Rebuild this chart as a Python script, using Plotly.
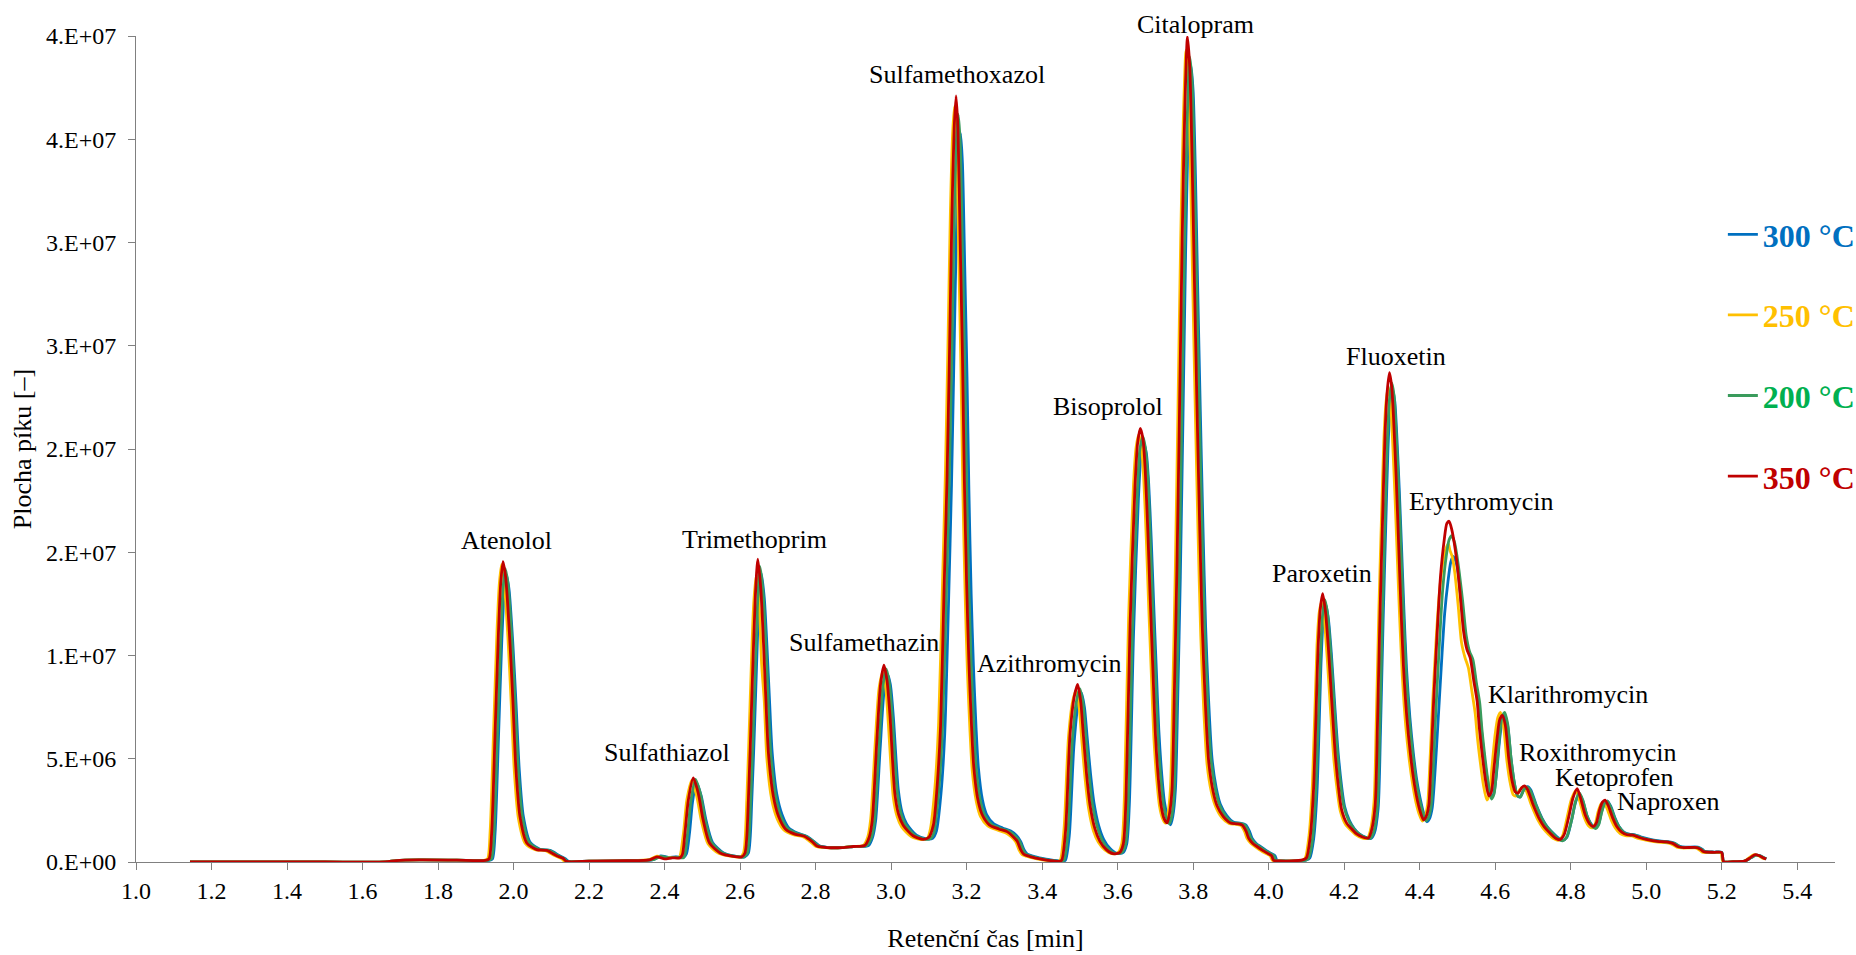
import plotly.graph_objects as go

# ---------------- data (time [min], peak area [x1e6]) ----------------
series_names = ["300 °C", "250 °C", "200 °C", "350 °C"]
line_colors = ["#0070C0", "#FFC000", "#3A9B5C", "#C00000"]
text_colors = ["#0070C0", "#FFC000", "#00B050", "#C00000"]

pts_300 = [
    (1.143, 0), (1.30, 0), (1.50, 0), (1.66, 0), (1.69, 0.07), (1.75, 0.10), (1.85, 0.09), (1.935, 0.08),
    (1.944, 0.15), (1.951, 1.4), (1.960, 6.0), (1.969, 10.8), (1.975, 13.0), (1.981, 13.9), (1.988, 13.2),
    (1.998, 10.6), (2.007, 7.5), (2.015, 4.5), (2.026, 2.2), (2.044, 0.95), (2.070, 0.62), (2.097, 0.56),
    (2.122, 0.30), (2.138, 0.15), (2.146, 0.03),
    (2.20, 0.04), (2.30, 0.06), (2.37, 0.12), (2.39, 0.30), (2.41, 0.22), (2.43, 0.25), (2.450, 0.22),
    (2.458, 0.40), (2.466, 1.4), (2.474, 2.9), (2.484, 3.85), (2.497, 3.2), (2.510, 2.0), (2.527, 0.95),
    (2.555, 0.45), (2.590, 0.27), (2.612, 0.25),
    (2.622, 0.44), (2.631, 3.0), (2.640, 7.5), (2.649, 12.2), (2.656, 14.0), (2.664, 12.8), (2.671, 10.5),
    (2.678, 7.8), (2.685, 5.3), (2.697, 3.3), (2.711, 2.3), (2.729, 1.65), (2.752, 1.4), (2.776, 1.25),
    (2.795, 1.0), (2.810, 0.78), (2.835, 0.70), (2.870, 0.70), (2.900, 0.75), (2.940, 0.80),
    (2.951, 1.2), (2.959, 2.0), (2.971, 5.5), (2.981, 8.2), (2.990, 9.1), (2.998, 8.6), (3.006, 7.0),
    (3.019, 3.5), (3.029, 2.4), (3.041, 1.85), (3.067, 1.3), (3.094, 1.12), (3.110, 1.15),
    (3.120, 1.5), (3.132, 3.3), (3.142, 6.2), (3.152, 12.5), (3.160, 18.3), (3.167, 25.0), (3.173, 30.5),
    (3.179, 34.2), (3.184, 35.3), (3.189, 33.8), (3.195, 28.8), (3.201, 23.5), (3.206, 18.0), (3.212, 13.0),
    (3.218, 9.5), (3.225, 6.5), (3.231, 4.6), (3.242, 3.0), (3.253, 2.3), (3.272, 1.85), (3.295, 1.65),
    (3.317, 1.5), (3.332, 1.28), (3.343, 1.0), (3.352, 0.6), (3.360, 0.40), (3.380, 0.26), (3.410, 0.14),
    (3.440, 0.06), (3.455, 0.03),
    (3.462, 0.10), (3.472, 1.3), (3.484, 5.6), (3.495, 7.6), (3.504, 8.2), (3.512, 7.5), (3.519, 6.1),
    (3.528, 4.3), (3.537, 2.9), (3.550, 1.75), (3.563, 1.1), (3.580, 0.65), (3.598, 0.42), (3.614, 0.45),
    (3.624, 0.88), (3.631, 2.8), (3.642, 11.0), (3.655, 17.6), (3.662, 19.7), (3.669, 20.3), (3.676, 19.8),
    (3.682, 18.4), (3.689, 15.6), (3.695, 12.7), (3.702, 9.5), (3.709, 6.4), (3.717, 4.2), (3.724, 2.9),
    (3.732, 2.2), (3.740, 1.8), (3.746, 2.2),
    (3.753, 3.5), (3.759, 7.8), (3.766, 13.8), (3.773, 21.5), (3.780, 29.5), (3.787, 35.5), (3.794, 38.6),
    (3.800, 37.3), (3.806, 33.3), (3.812, 27.8), (3.819, 21.8), (3.826, 16.2), (3.833, 11.4), (3.841, 7.8),
    (3.850, 5.0), (3.861, 3.6), (3.872, 2.8), (3.889, 2.25), (3.908, 1.92), (3.924, 1.88), (3.939, 1.8),
    (3.949, 1.5), (3.956, 1.15), (3.967, 0.9), (3.978, 0.75), (3.994, 0.55), (4.008, 0.40), (4.017, 0.30),
    (4.022, 0.08), (4.040, 0.05), (4.070, 0.05), (4.100, 0.10),
    (4.109, 0.2), (4.119, 1.1), (4.128, 3.4), (4.139, 9.8), (4.145, 11.9), (4.151, 12.5), (4.158, 11.8),
    (4.166, 10.1), (4.175, 7.6), (4.184, 5.3), (4.193, 3.7), (4.201, 2.7), (4.214, 2.0), (4.227, 1.6),
    (4.240, 1.36), (4.257, 1.2), (4.271, 1.14), (4.280, 1.4),
    (4.290, 2.6), (4.296, 6.2), (4.303, 11.6), (4.310, 16.2), (4.316, 20.0), (4.322, 22.1), (4.328, 22.9),
    (4.334, 22.3), (4.339, 20.8), (4.346, 18.0), (4.352, 15.2), (4.358, 12.3), (4.365, 9.4), (4.374, 7.0),
    (4.383, 5.3), (4.392, 4.0), (4.401, 3.1), (4.410, 2.4), (4.419, 1.95), (4.426, 2.1),
    (4.433, 2.6), (4.440, 4.2), (4.448, 6.6), (4.457, 9.4), (4.466, 12.0), (4.475, 13.6), (4.482, 14.5),
    (4.488, 14.8), (4.495, 14.6), (4.502, 14.0), (4.510, 12.6), (4.520, 11.0), (4.530, 10.2), (4.540, 9.7),
    (4.549, 8.6), (4.558, 7.5), (4.564, 6.3), (4.571, 5.1), (4.580, 3.9), (4.589, 3.1), (4.596, 3.3),
    (4.603, 4.2), (4.611, 5.8), (4.618, 6.8), (4.625, 7.1), (4.633, 6.6), (4.642, 5.0), (4.651, 3.8),
    (4.659, 3.2), (4.666, 3.15), (4.676, 3.5), (4.686, 3.65), (4.694, 3.5), (4.708, 2.8), (4.726, 2.05),
    (4.738, 1.7), (4.753, 1.4), (4.768, 1.15), (4.779, 1.05), (4.790, 1.2),
    (4.802, 2.0), (4.813, 2.9), (4.823, 3.3), (4.832, 2.95), (4.844, 2.2), (4.856, 1.8), (4.866, 1.68),
    (4.874, 1.85), (4.882, 2.45), (4.890, 2.85), (4.897, 2.95), (4.906, 2.7), (4.918, 2.1), (4.928, 1.72),
    (4.941, 1.45), (4.955, 1.35), (4.970, 1.32), (4.985, 1.22), (5.005, 1.12), (5.035, 1.02), (5.058, 0.98),
    (5.074, 0.92), (5.089, 0.76), (5.104, 0.72), (5.137, 0.72), (5.148, 0.62), (5.155, 0.52), (5.180, 0.48),
    (5.200, 0.47), (5.205, 0.02), (5.230, 0.02), (5.260, 0.04), (5.277, 0.20), (5.290, 0.33), (5.302, 0.30),
    (5.312, 0.20), (5.318, 0.15),
]

pts_250 = [
    (1.143, 0), (1.30, 0), (1.50, 0), (1.66, 0), (1.69, 0.07), (1.75, 0.10), (1.85, 0.09), (1.920, 0.08),
    (1.931, 0.15), (1.938, 1.5), (1.947, 6.3), (1.956, 11.1), (1.962, 13.4), (1.968, 14.4), (1.975, 13.6),
    (1.985, 10.9), (1.994, 7.6), (2.002, 4.4), (2.013, 2.1), (2.031, 0.9), (2.057, 0.60), (2.084, 0.55),
    (2.110, 0.30), (2.127, 0.17), (2.136, 0.03),
    (2.20, 0.04), (2.30, 0.06), (2.36, 0.12), (2.38, 0.28), (2.40, 0.20), (2.42, 0.22), (2.436, 0.20),
    (2.441, 0.30), (2.450, 1.4), (2.459, 3.0), (2.472, 3.95), (2.485, 3.2), (2.498, 1.95), (2.515, 0.88),
    (2.543, 0.42), (2.578, 0.27), (2.600, 0.25),
    (2.609, 0.44), (2.618, 3.1), (2.627, 8.0), (2.636, 12.5), (2.643, 13.9), (2.651, 12.3), (2.657, 9.6),
    (2.664, 7.8), (2.671, 5.0), (2.684, 3.0), (2.698, 2.1), (2.716, 1.55), (2.741, 1.32), (2.766, 1.22),
    (2.786, 0.98), (2.801, 0.75), (2.826, 0.70), (2.870, 0.70), (2.900, 0.75), (2.926, 0.80),
    (2.938, 1.2), (2.946, 2.1), (2.958, 5.8), (2.968, 8.4), (2.978, 9.2), (2.986, 8.4), (2.993, 6.6),
    (3.006, 3.1), (3.016, 2.2), (3.028, 1.7), (3.054, 1.22), (3.081, 1.08), (3.096, 1.15),
    (3.104, 1.6), (3.116, 3.6), (3.126, 6.8), (3.136, 13.4), (3.144, 19.0), (3.151, 25.5), (3.157, 31.5),
    (3.163, 35.3), (3.168, 36.6), (3.173, 35.0), (3.179, 29.5), (3.185, 23.8), (3.190, 18.0), (3.196, 13.0),
    (3.202, 9.3), (3.209, 6.3), (3.215, 4.4), (3.226, 2.9), (3.237, 2.2), (3.256, 1.75), (3.281, 1.55),
    (3.303, 1.42), (3.318, 1.22), (3.330, 0.98), (3.339, 0.58), (3.347, 0.36), (3.366, 0.24), (3.396, 0.12),
    (3.426, 0.05), (3.441, 0.03),
    (3.448, 0.10), (3.458, 1.6), (3.470, 6.1), (3.481, 7.8), (3.490, 8.3), (3.498, 7.5), (3.505, 5.9),
    (3.514, 4.0), (3.523, 2.6), (3.536, 1.5), (3.549, 0.95), (3.566, 0.58), (3.584, 0.40), (3.601, 0.45),
    (3.611, 0.9), (3.618, 3.2), (3.629, 11.8), (3.642, 18.3), (3.649, 20.1), (3.656, 20.7), (3.663, 20.1),
    (3.669, 18.6), (3.676, 15.6), (3.682, 12.5), (3.689, 9.2), (3.696, 6.0), (3.704, 3.9), (3.711, 2.7),
    (3.719, 2.1), (3.727, 1.88), (3.733, 2.3),
    (3.740, 3.6), (3.746, 8.2), (3.753, 14.4), (3.760, 22.2), (3.767, 30.2), (3.774, 36.0), (3.781, 39.3),
    (3.787, 37.8), (3.793, 33.5), (3.799, 27.8), (3.806, 21.6), (3.813, 15.9), (3.820, 11.0), (3.828, 7.4),
    (3.837, 4.7), (3.848, 3.4), (3.859, 2.7), (3.876, 2.15), (3.895, 1.87), (3.911, 1.83), (3.926, 1.77),
    (3.936, 1.48), (3.943, 1.13), (3.954, 0.88), (3.965, 0.73), (3.981, 0.53), (3.995, 0.40), (4.004, 0.30),
    (4.010, 0.08), (4.030, 0.05), (4.060, 0.05), (4.090, 0.10),
    (4.097, 0.2), (4.107, 1.3), (4.116, 3.8), (4.128, 10.5), (4.134, 12.1), (4.140, 12.6), (4.147, 11.8),
    (4.155, 9.9), (4.164, 7.3), (4.173, 4.9), (4.182, 3.4), (4.190, 2.45), (4.204, 1.8), (4.217, 1.55),
    (4.230, 1.33), (4.247, 1.17), (4.261, 1.14), (4.269, 1.5),
    (4.279, 2.9), (4.285, 6.8), (4.292, 12.3), (4.299, 16.8), (4.305, 20.4), (4.311, 22.3), (4.317, 23.0),
    (4.323, 22.2), (4.328, 20.5), (4.335, 17.5), (4.341, 14.6), (4.347, 11.8), (4.354, 9.0), (4.363, 6.6),
    (4.372, 5.0), (4.381, 3.8), (4.390, 2.9), (4.399, 2.3), (4.407, 1.98), (4.414, 2.2),
    (4.421, 2.8), (4.427, 4.8), (4.434, 7.6), (4.443, 10.6), (4.452, 13.0), (4.462, 14.6), (4.470, 15.2),
    (4.476, 15.4), (4.480, 15.1), (4.486, 14.8), (4.493, 14.0), (4.502, 12.4), (4.511, 10.6), (4.520, 9.9),
    (4.529, 9.4), (4.538, 8.3), (4.547, 7.2), (4.553, 6.0), (4.560, 4.9), (4.569, 3.7), (4.578, 3.0),
    (4.585, 3.3),
    (4.591, 4.5), (4.600, 6.2), (4.607, 7.0), (4.614, 7.25), (4.622, 6.6), (4.631, 4.9), (4.640, 3.8),
    (4.648, 3.25), (4.656, 3.2), (4.665, 3.5), (4.674, 3.62), (4.682, 3.45), (4.696, 2.75), (4.714, 2.0),
    (4.726, 1.65), (4.741, 1.35), (4.756, 1.12), (4.767, 1.05), (4.778, 1.25),
    (4.791, 2.2), (4.802, 3.05), (4.814, 3.45), (4.823, 3.0), (4.835, 2.2), (4.847, 1.75), (4.857, 1.65),
    (4.865, 1.85), (4.872, 2.4), (4.880, 2.8), (4.887, 2.9), (4.896, 2.6), (4.908, 2.0), (4.918, 1.65),
    (4.931, 1.38), (4.945, 1.28), (4.961, 1.26), (4.976, 1.16), (4.996, 1.07), (5.026, 0.97), (5.050, 0.94),
    (5.066, 0.88), (5.081, 0.72), (5.096, 0.68), (5.130, 0.68), (5.141, 0.58), (5.148, 0.48), (5.180, 0.45),
    (5.198, 0.45), (5.203, 0.02), (5.230, 0.02), (5.260, 0.04), (5.272, 0.20), (5.284, 0.35), (5.297, 0.30),
    (5.307, 0.20), (5.315, 0.15),
]

pts_200 = [
    (1.143, 0), (1.30, 0), (1.50, 0), (1.66, 0), (1.69, 0.07), (1.75, 0.10), (1.85, 0.09), (1.930, 0.08),
    (1.941, 0.15), (1.948, 1.4), (1.957, 6.1), (1.966, 10.9), (1.972, 13.2), (1.978, 14.2), (1.985, 13.5),
    (1.995, 10.9), (2.004, 7.7), (2.012, 4.6), (2.023, 2.2), (2.041, 0.95), (2.067, 0.62), (2.094, 0.56),
    (2.119, 0.30), (2.135, 0.15), (2.143, 0.03),
    (2.20, 0.04), (2.30, 0.06), (2.37, 0.12), (2.39, 0.27), (2.41, 0.20), (2.43, 0.23), (2.450, 0.21),
    (2.453, 0.30), (2.461, 1.4), (2.470, 3.0), (2.482, 4.0), (2.495, 3.3), (2.508, 2.0), (2.525, 0.93),
    (2.553, 0.45), (2.588, 0.27), (2.610, 0.25),
    (2.619, 0.44), (2.628, 3.0), (2.637, 7.7), (2.646, 12.4), (2.653, 14.3), (2.661, 13.0), (2.668, 10.6),
    (2.674, 8.0), (2.681, 5.3), (2.694, 3.2), (2.708, 2.2), (2.726, 1.62), (2.750, 1.38), (2.774, 1.25),
    (2.794, 1.0), (2.808, 0.77), (2.833, 0.70), (2.870, 0.70), (2.900, 0.75), (2.935, 0.80),
    (2.948, 1.2), (2.956, 2.0), (2.968, 5.7), (2.978, 8.5), (2.987, 9.35), (2.995, 8.7), (3.003, 7.0),
    (3.016, 3.4), (3.026, 2.35), (3.038, 1.8), (3.064, 1.28), (3.091, 1.10), (3.105, 1.15),
    (3.113, 1.4), (3.126, 3.4), (3.136, 6.4), (3.146, 12.8), (3.154, 18.4), (3.161, 24.9), (3.167, 31.0),
    (3.173, 35.0), (3.178, 36.2), (3.183, 34.8), (3.189, 29.5), (3.195, 24.0), (3.200, 18.3), (3.206, 13.3),
    (3.212, 9.6), (3.219, 6.6), (3.225, 4.6), (3.236, 3.0), (3.247, 2.3), (3.266, 1.82), (3.290, 1.62),
    (3.313, 1.48), (3.328, 1.26), (3.340, 1.0), (3.349, 0.6), (3.357, 0.38), (3.376, 0.25), (3.406, 0.13),
    (3.436, 0.05), (3.450, 0.03),
    (3.458, 0.10), (3.468, 1.4), (3.480, 5.9), (3.491, 7.8), (3.500, 8.4), (3.508, 7.7), (3.515, 6.2),
    (3.524, 4.3), (3.533, 2.8), (3.546, 1.7), (3.559, 1.05), (3.576, 0.62), (3.594, 0.41), (3.610, 0.45),
    (3.621, 0.88), (3.628, 2.9), (3.639, 11.2), (3.652, 17.9), (3.659, 20.0), (3.667, 20.6), (3.673, 20.1),
    (3.680, 18.6), (3.686, 15.8), (3.692, 12.8), (3.699, 9.5), (3.706, 6.3), (3.714, 4.1), (3.721, 2.8),
    (3.729, 2.15), (3.737, 1.85), (3.743, 2.2),
    (3.750, 3.5), (3.756, 7.9), (3.763, 14.0), (3.770, 21.8), (3.777, 29.8), (3.784, 35.8), (3.791, 39.0),
    (3.797, 37.8), (3.803, 33.8), (3.809, 28.2), (3.816, 22.1), (3.823, 16.4), (3.830, 11.5), (3.838, 7.8),
    (3.847, 5.0), (3.858, 3.6), (3.869, 2.8), (3.886, 2.22), (3.905, 1.9), (3.921, 1.87), (3.936, 1.8),
    (3.946, 1.5), (3.953, 1.15), (3.964, 0.9), (3.975, 0.75), (3.991, 0.55), (4.005, 0.40), (4.014, 0.30),
    (4.019, 0.08), (4.040, 0.05), (4.070, 0.05), (4.100, 0.10),
    (4.106, 0.2), (4.116, 1.1), (4.125, 3.5), (4.137, 10.0), (4.143, 12.0), (4.149, 12.7), (4.156, 12.0),
    (4.164, 10.2), (4.173, 7.7), (4.182, 5.3), (4.191, 3.7), (4.199, 2.7), (4.212, 2.0), (4.225, 1.62),
    (4.238, 1.38), (4.255, 1.2), (4.269, 1.15), (4.278, 1.45),
    (4.288, 2.7), (4.294, 6.3), (4.301, 11.8), (4.308, 16.5), (4.314, 20.3), (4.320, 22.4), (4.326, 23.2),
    (4.332, 22.6), (4.337, 21.0), (4.344, 18.2), (4.350, 15.3), (4.356, 12.4), (4.363, 9.5), (4.372, 7.0),
    (4.381, 5.3), (4.390, 4.0), (4.399, 3.06), (4.408, 2.4), (4.416, 2.0), (4.423, 2.15),
    (4.430, 2.7), (4.436, 4.6), (4.443, 7.4), (4.452, 10.5), (4.461, 13.2), (4.471, 14.9), (4.478, 15.6),
    (4.485, 15.8), (4.492, 15.5), (4.499, 14.8), (4.505, 14.0), (4.514, 12.6), (4.523, 11.0), (4.532, 10.2),
    (4.541, 9.8), (4.550, 8.7), (4.559, 7.7), (4.565, 6.4), (4.572, 5.2), (4.581, 3.9), (4.590, 3.05),
    (4.597, 3.3),
    (4.603, 4.3), (4.611, 6.0), (4.618, 7.0), (4.625, 7.25), (4.633, 6.7), (4.642, 5.0), (4.651, 3.8),
    (4.659, 3.2), (4.667, 3.15), (4.676, 3.5), (4.685, 3.62), (4.693, 3.45), (4.707, 2.8), (4.725, 2.05),
    (4.737, 1.7), (4.752, 1.4), (4.767, 1.12), (4.778, 1.02), (4.789, 1.2),
    (4.802, 2.0), (4.813, 2.95), (4.823, 3.35), (4.832, 3.0), (4.844, 2.2), (4.856, 1.75), (4.866, 1.62),
    (4.874, 1.8), (4.882, 2.4), (4.890, 2.85), (4.897, 2.95), (4.906, 2.65), (4.918, 2.05), (4.928, 1.7),
    (4.941, 1.42), (4.955, 1.32), (4.970, 1.30), (4.985, 1.2), (5.005, 1.1), (5.035, 1.0), (5.058, 0.96),
    (5.074, 0.90), (5.089, 0.74), (5.104, 0.70), (5.137, 0.70), (5.148, 0.60), (5.155, 0.50), (5.180, 0.47),
    (5.200, 0.46), (5.205, 0.02), (5.230, 0.02), (5.260, 0.04), (5.277, 0.20), (5.290, 0.33), (5.302, 0.30),
    (5.312, 0.20), (5.318, 0.15),
]

pts_350 = [
    (1.143, 0), (1.30, 0), (1.50, 0), (1.66, 0), (1.69, 0.07), (1.75, 0.10), (1.85, 0.09), (1.925, 0.08),
    (1.935, 0.15), (1.942, 1.4), (1.951, 6.2), (1.960, 11.1), (1.966, 13.5), (1.972, 14.55), (1.979, 13.8),
    (1.989, 11.1), (1.998, 7.9), (2.006, 4.6), (2.017, 2.2), (2.035, 0.92), (2.061, 0.60), (2.088, 0.56),
    (2.114, 0.30), (2.131, 0.18), (2.140, 0.03),
    (2.20, 0.04), (2.30, 0.06), (2.36, 0.10), (2.38, 0.25), (2.40, 0.15), (2.42, 0.20), (2.440, 0.20),
    (2.447, 0.35), (2.454, 1.4), (2.463, 3.0), (2.476, 4.07), (2.489, 3.34), (2.502, 2.05), (2.519, 0.92),
    (2.547, 0.44), (2.582, 0.27), (2.604, 0.25),
    (2.613, 0.44), (2.622, 3.0), (2.631, 7.9), (2.640, 12.7), (2.647, 14.67), (2.655, 13.2), (2.662, 10.6),
    (2.668, 8.0), (2.675, 5.3), (2.688, 3.2), (2.702, 2.2), (2.720, 1.6), (2.745, 1.35), (2.770, 1.25),
    (2.790, 1.0), (2.805, 0.76), (2.830, 0.70), (2.870, 0.70), (2.900, 0.75), (2.930, 0.80),
    (2.942, 1.2), (2.950, 2.0), (2.962, 5.8), (2.972, 8.6), (2.981, 9.53), (2.989, 8.8), (2.997, 7.1),
    (3.010, 3.3), (3.020, 2.3), (3.032, 1.78), (3.058, 1.27), (3.085, 1.10), (3.100, 1.2),
    (3.112, 1.8), (3.122, 3.7), (3.131, 6.6), (3.140, 13.0), (3.148, 18.5), (3.155, 25.0), (3.161, 31.3),
    (3.167, 35.5), (3.172, 37.1), (3.177, 35.5), (3.183, 30.0), (3.189, 24.5), (3.194, 18.5), (3.200, 13.5),
    (3.206, 9.7), (3.213, 6.6), (3.219, 4.6), (3.230, 3.0), (3.241, 2.3), (3.260, 1.8), (3.285, 1.6),
    (3.307, 1.47), (3.322, 1.25), (3.334, 1.0), (3.343, 0.6), (3.351, 0.38), (3.370, 0.25), (3.400, 0.13),
    (3.430, 0.05), (3.445, 0.03),
    (3.452, 0.10), (3.462, 1.5), (3.474, 6.2), (3.485, 8.0), (3.494, 8.6), (3.502, 7.8), (3.509, 6.2),
    (3.518, 4.2), (3.527, 2.74), (3.540, 1.6), (3.553, 1.0), (3.570, 0.60), (3.588, 0.40), (3.605, 0.45),
    (3.615, 0.88), (3.622, 3.0), (3.633, 11.5), (3.646, 18.2), (3.653, 20.3), (3.660, 21.0), (3.667, 20.5),
    (3.673, 19.0), (3.680, 16.0), (3.686, 12.9), (3.693, 9.5), (3.700, 6.2), (3.708, 4.0), (3.715, 2.74),
    (3.723, 2.1), (3.731, 1.89), (3.737, 2.3),
    (3.744, 3.5), (3.750, 8.0), (3.757, 14.2), (3.764, 22.0), (3.771, 30.2), (3.778, 36.5), (3.785, 39.96),
    (3.791, 38.5), (3.797, 34.2), (3.803, 28.5), (3.810, 22.2), (3.817, 16.5), (3.824, 11.5), (3.832, 7.8),
    (3.841, 4.9), (3.852, 3.5), (3.863, 2.74), (3.880, 2.2), (3.899, 1.89), (3.915, 1.85), (3.930, 1.79),
    (3.940, 1.5), (3.947, 1.15), (3.958, 0.9), (3.969, 0.75), (3.985, 0.55), (3.999, 0.40), (4.008, 0.30),
    (4.013, 0.08), (4.030, 0.05), (4.060, 0.05), (4.090, 0.10),
    (4.100, 0.2), (4.110, 1.2), (4.119, 3.57), (4.131, 10.4), (4.137, 12.3), (4.143, 13.0), (4.150, 12.2),
    (4.158, 10.4), (4.167, 7.8), (4.176, 5.3), (4.185, 3.6), (4.193, 2.55), (4.207, 1.87), (4.220, 1.6),
    (4.233, 1.36), (4.250, 1.2), (4.264, 1.16), (4.272, 1.5),
    (4.282, 2.72), (4.288, 6.5), (4.295, 12.1), (4.302, 16.8), (4.308, 20.6), (4.314, 22.8), (4.320, 23.7),
    (4.326, 23.0), (4.331, 21.4), (4.338, 18.5), (4.344, 15.5), (4.350, 12.5), (4.357, 9.5), (4.366, 7.0),
    (4.375, 5.3), (4.384, 4.0), (4.393, 3.06), (4.402, 2.4), (4.410, 2.04), (4.417, 2.2),
    (4.424, 2.72), (4.430, 4.8), (4.437, 7.8), (4.446, 11.0), (4.455, 13.8), (4.465, 15.6), (4.472, 16.4),
    (4.478, 16.5), (4.485, 16.1), (4.492, 15.4), (4.498, 14.6), (4.507, 13.0), (4.516, 11.2), (4.525, 10.3),
    (4.534, 9.87), (4.543, 8.8), (4.552, 7.8), (4.558, 6.5), (4.565, 5.3), (4.574, 4.0), (4.583, 3.2),
    (4.590, 3.4),
    (4.596, 4.4), (4.605, 6.0), (4.612, 6.9), (4.619, 7.1), (4.627, 6.6), (4.636, 5.0), (4.645, 3.9),
    (4.653, 3.4), (4.661, 3.34), (4.670, 3.6), (4.678, 3.69), (4.686, 3.5), (4.700, 2.8), (4.718, 2.05),
    (4.730, 1.7), (4.745, 1.4), (4.760, 1.15), (4.771, 1.08), (4.782, 1.3),
    (4.795, 2.2), (4.806, 3.1), (4.817, 3.55), (4.826, 3.1), (4.838, 2.3), (4.850, 1.85), (4.860, 1.72),
    (4.868, 1.9), (4.876, 2.5), (4.884, 2.9), (4.891, 3.0), (4.900, 2.7), (4.912, 2.1), (4.922, 1.72),
    (4.935, 1.45), (4.949, 1.32), (4.965, 1.30), (4.980, 1.2), (5.000, 1.1), (5.030, 1.0), (5.054, 0.97),
    (5.070, 0.90), (5.085, 0.74), (5.100, 0.70), (5.134, 0.70), (5.145, 0.60), (5.152, 0.50), (5.180, 0.47),
    (5.200, 0.46), (5.205, 0.02), (5.230, 0.02), (5.260, 0.04), (5.275, 0.20), (5.287, 0.35), (5.300, 0.30),
    (5.310, 0.20), (5.318, 0.15),
]

# peak labels: (text, time [min], height [x1e6])
peak_labels = [
    ("Atenolol", 1.982, 15.57), ("Sulfathiazol", 2.406, 5.28), ("Trimethoprim", 2.639, 15.6),
    ("Sulfamethazin", 2.928, 10.62), ("Sulfamethoxazol", 3.175, 38.12), ("Azithromycin", 3.418, 9.60),
    ("Bisoprolol", 3.575, 22.06), ("Citalopram", 3.805, 40.58), ("Paroxetin", 4.142, 13.99),
    ("Fluoxetin", 4.336, 24.47), ("Erythromycin", 4.562, 17.45), ("Klarithromycin", 4.792, 8.10),
    ("Roxithromycin", 4.872, 5.28), ("Ketoprofen", 4.915, 4.11), ("Naproxen", 5.060, 2.93),
]

y_max = 40
y_tick_vals = [0, 5, 10, 15, 20, 25, 30, 35, 40]
y_tick_text = ["0.E+00", "5.E+06", "1.E+07", "2.E+07", "2.E+07", "3.E+07", "3.E+07", "4.E+07", "4.E+07"]

FONT = "Liberation Serif, Times New Roman, serif"

fig = go.Figure()
for name, pts, lc, tc in zip(series_names, [pts_300, pts_250, pts_200, pts_350], line_colors, text_colors):
    tx, vy = zip(*pts)
    fig.add_trace(go.Scatter(
        x=list(tx), y=list(vy), mode="lines", name=f"<span style='color:{tc}'>{name}</span>",
        legendgroup=name, line=dict(color=lc, width=2.8, shape="spline", smoothing=0.7),
        hoverinfo="x+y",
    ))

# labels: x in data units, y in axis-domain fraction (so labels above the range stay visible)
for txt, xt, yv in peak_labels:
    fig.add_annotation(x=xt, xref="x", y=yv / y_max, yref="y domain", text=txt, showarrow=False,
                       xanchor="center", yanchor="middle",
                       font=dict(family=FONT, size=26, color="black"))

axis_col = "#808080"
fig.update_layout(
    width=1856, height=955,
    margin=dict(l=136, r=21, t=36, b=93, autoexpand=False),
    paper_bgcolor="white", plot_bgcolor="white",
    font=dict(family=FONT, color="black"),
    showlegend=True,
    legend=dict(x=0.934, y=0.793, xanchor="left", yanchor="top", bgcolor="rgba(0,0,0,0)",
                font=dict(family=FONT, size=32, weight="bold"), tracegroupgap=36,
                traceorder="grouped", itemwidth=30),
    xaxis=dict(range=[1.0, 5.5], tick0=1.0, dtick=0.2, tickformat=".1f", showgrid=False, zeroline=False,
               showline=True, linecolor=axis_col, linewidth=1, ticks="outside", ticklen=7,
               tickcolor=axis_col, tickfont=dict(family=FONT, size=24, color="black"),
               ticklabelstandoff=0, automargin=False,
               title=dict(text="Retenční čas [min]", font=dict(family=FONT, size=26), standoff=26)),
    yaxis=dict(range=[0, y_max], tickvals=y_tick_vals, ticktext=y_tick_text, showgrid=False, zeroline=False,
               showline=True, linecolor=axis_col, linewidth=1, ticks="outside", ticklen=7,
               tickcolor=axis_col, tickfont=dict(family=FONT, size=24, color="black"),
               ticklabelstandoff=7, automargin=False,
               title=dict(text="Plocha píku [–]", font=dict(family=FONT, size=26), standoff=6)),
)

fig.write_html("out.html", config={"displayModeBar": False},
               post_script="document.body.style.margin='0';document.body.style.overflow='hidden';")
